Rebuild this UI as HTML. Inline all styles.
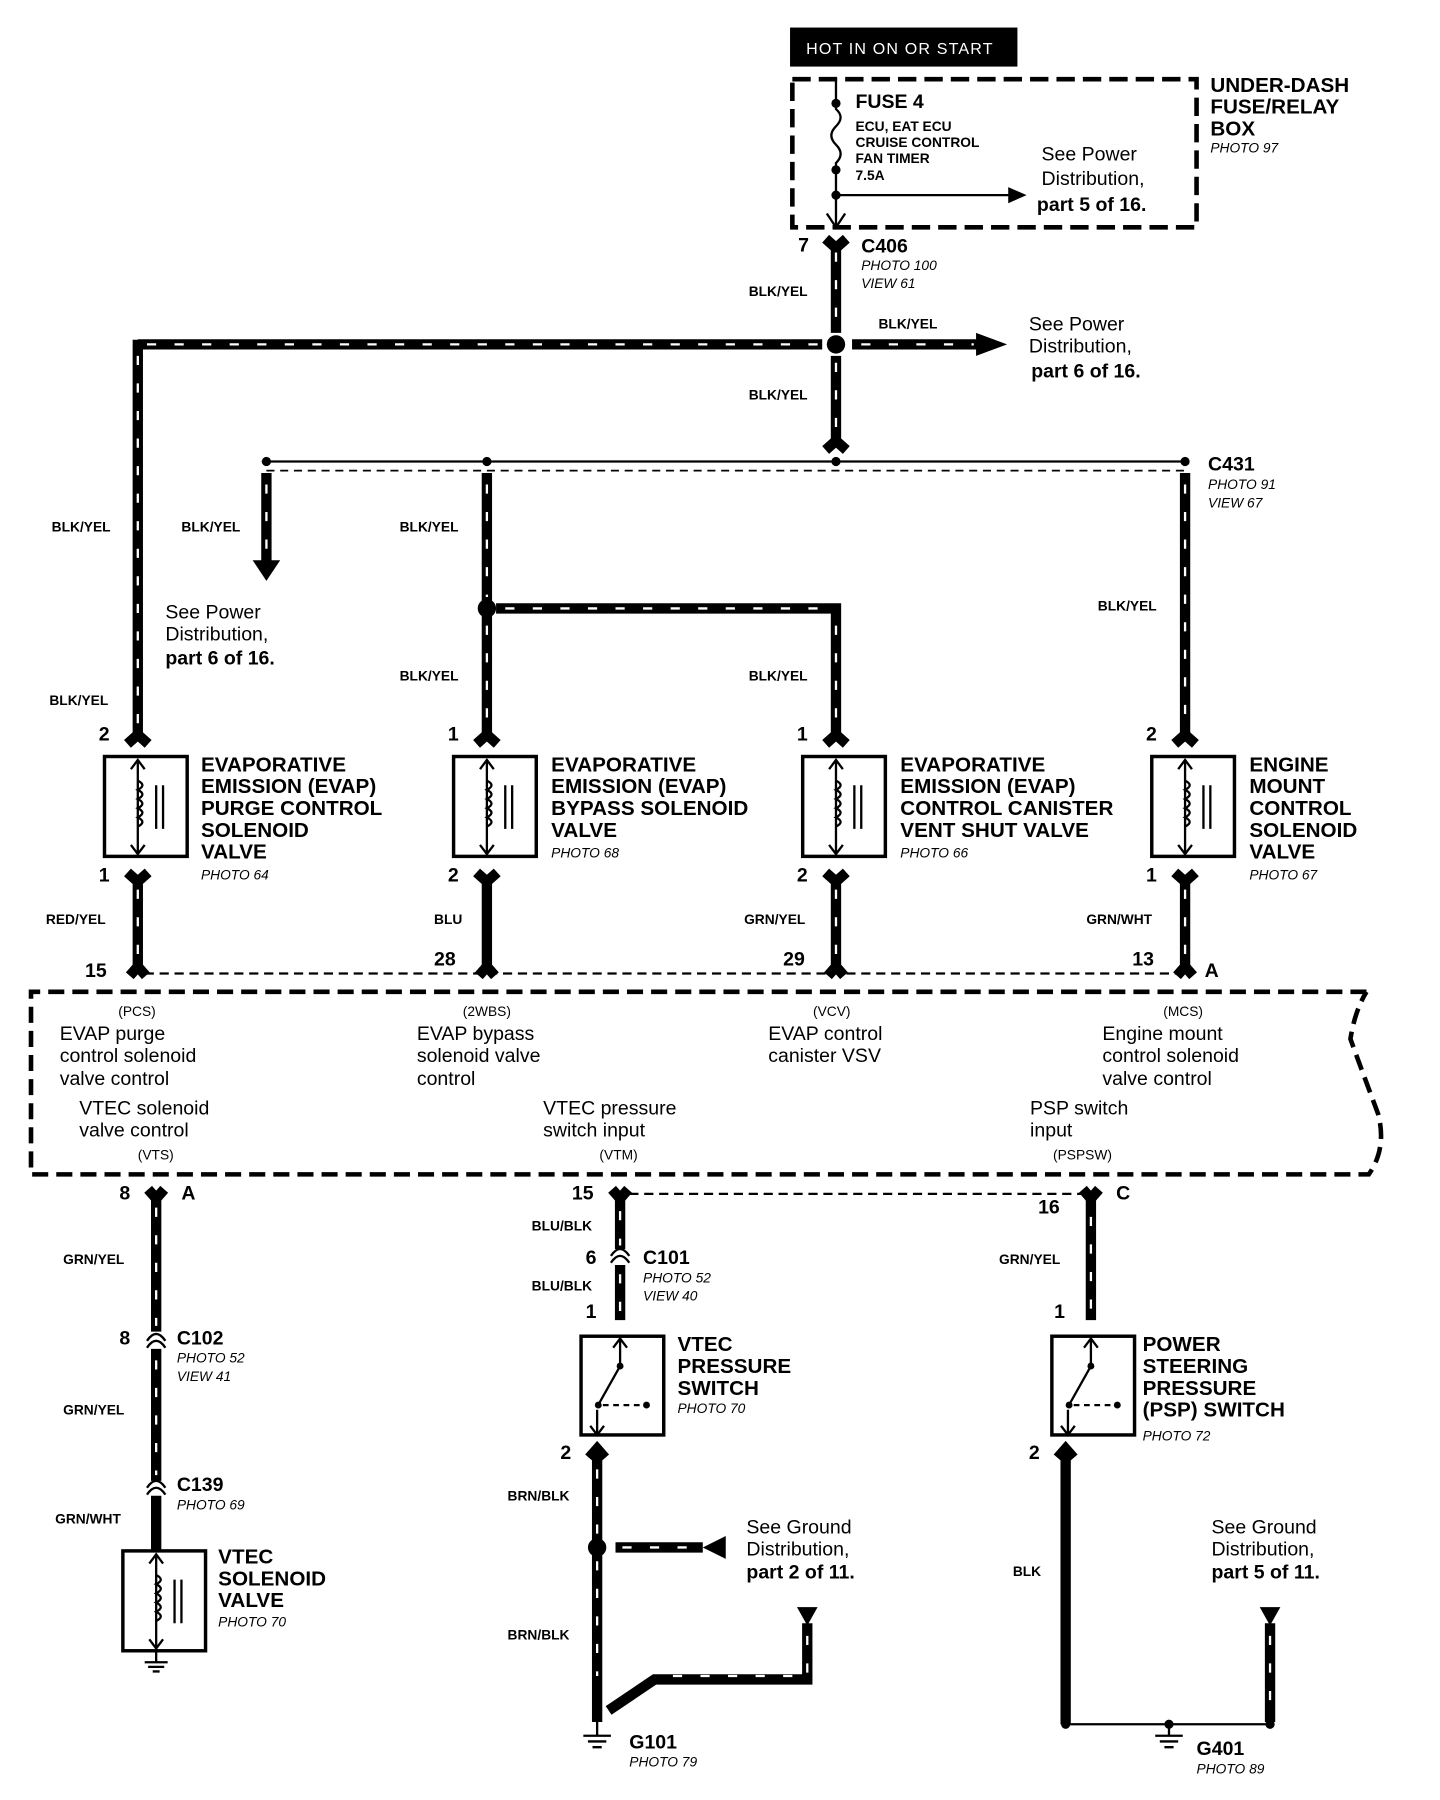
<!DOCTYPE html>
<html><head><meta charset="utf-8"><style>
html,body{margin:0;padding:0;background:#fff;width:1440px;height:1800px;overflow:hidden}
svg{display:block}
text{font-family:"Liberation Sans",sans-serif;fill:#000}
.b{font-weight:bold}
.i{font-style:italic;font-size:12px}
.s{font-size:12px;font-weight:bold}
.n{font-size:17px}
.h{font-size:18px;font-weight:bold}
.w{stroke:#000;stroke-width:9;fill:none}
.d{stroke:#fff;stroke-width:2;stroke-dasharray:8 16;fill:none}
.t{stroke:#000;stroke-width:2;fill:none}
</style></head><body>
<svg width="1440" height="1800" viewBox="0 0 1254 1568" preserveAspectRatio="none" xmlns="http://www.w3.org/2000/svg">
<rect width="1254" height="1568" fill="#fff"/>
<!-- top -->
<rect x="688" y="24" width="198" height="34" fill="#000"/>
<text x="702" y="47" style="fill:#fff;font-size:14px;letter-spacing:1px">HOT IN ON OR START</text>
<rect x="690" y="69" width="352" height="129" fill="none" stroke="#000" stroke-width="4" stroke-dasharray="16 7"/>
<path class="t" d="M728 68V95 Q736 102 728 110 Q720 118 728 126 Q736 134 728 142 V196"/>
<circle cx="728" cy="90" r="4"/><circle cx="728" cy="148" r="4"/><circle cx="728" cy="170" r="4"/>
<path class="t" d="M728 170H880"/><path d="M878 163L894 170L878 177Z"/>
<path class="t" d="M720 186L728 198L736 186"/>
<text x="745" y="94" class="b n">FUSE 4</text>
<text x="745" y="114" class="s">ECU, EAT ECU</text>
<text x="745" y="128" class="s">CRUISE CONTROL</text>
<text x="745" y="142" class="s">FAN TIMER</text>
<text x="745" y="157" class="s">7.5A</text>
<text x="907" y="140" class="n">See Power</text>
<text x="907" y="161" class="n">Distribution,</text>
<text x="903" y="184" class="b n">part 5 of 16.</text>
<text x="1054" y="80" class="h">UNDER-DASH</text>
<text x="1054" y="99" class="h">FUSE/RELAY</text>
<text x="1054" y="118" class="h">BOX</text>
<text x="1054" y="133" class="i">PHOTO 97</text>
<text x="695" y="219" class="b n">7</text>
<text x="750" y="220" class="b n">C406</text>
<text x="750" y="235" class="i">PHOTO 100</text>
<text x="750" y="251" class="i">VIEW 61</text>
<!-- main feed -->
<path class="w" d="M719 208L728 216L737 208"/>
<path class="w" d="M728 214V290M728 310V384"/><path class="d" d="M728 220V290M728 316V384"/>
<path class="w" d="M719 392L728 384L737 392"/>
<text x="652" y="258" class="s">BLK/YEL</text>
<text x="652" y="348" class="s">BLK/YEL</text>
<text x="765" y="286" class="s">BLK/YEL</text>
<circle cx="728" cy="300" r="8"/>
<path class="w" d="M120 300H716M742 300H852"/><path class="d" d="M128 300H712M750 300H848"/>
<path d="M850 290L877 300L850 310Z"/>
<text x="896" y="288" class="n">See Power</text>
<text x="896" y="307" class="n">Distribution,</text>
<text x="898" y="329" class="b n">part 6 of 16.</text>
<!-- C431 bus -->
<path class="t" d="M228 402H1035"/>
<path d="M232 410H1032" stroke="#000" stroke-width="1.5" stroke-dasharray="7 5"/>
<circle cx="232" cy="402" r="4"/><circle cx="424" cy="402" r="4"/><circle cx="728" cy="402" r="4"/><circle cx="1032" cy="402" r="4"/>
<text x="1052" y="410" class="b n">C431</text>
<text x="1052" y="426" class="i">PHOTO 91</text>
<text x="1052" y="442" class="i">VIEW 67</text>
<!-- left -->
<path class="w" d="M120 296V640"/><path class="d" d="M120 310V640"/>
<text x="45" y="463" class="s">BLK/YEL</text><text x="43" y="614" class="s">BLK/YEL</text>
<path class="w" d="M232 412V490"/><path class="d" d="M232 422V485"/>
<path d="M220 488L232 506L244 488Z"/>
<text x="158" y="463" class="s">BLK/YEL</text>
<text x="144" y="539" class="n">See Power</text>
<text x="144" y="558" class="n">Distribution,</text>
<text x="144" y="579" class="b n">part 6 of 16.</text>
<path class="w" d="M424 412V640"/><path class="d" d="M424 422V520M424 545V640"/>
<circle cx="424" cy="530" r="8"/>
<path class="w" d="M432 530H728V640"/><path class="d" d="M440 530H720M728 545V640"/>
<text x="348" y="463" class="s">BLK/YEL</text><text x="348" y="593" class="s">BLK/YEL</text><text x="652" y="593" class="s">BLK/YEL</text>
<path class="w" d="M1032 412V640"/><path class="d" d="M1032 422V640"/>
<text x="956" y="532" class="s">BLK/YEL</text>
<!-- forks above solenoids -->
<path class="w" d="M111 648L120 640L129 648M415 648L424 640L433 648M719 648L728 640L737 648M1023 648L1032 640L1041 648"/>
<text x="86" y="645" class="b n">2</text><text x="390" y="645" class="b n">1</text><text x="694" y="645" class="b n">1</text><text x="998" y="645" class="b n">2</text>
<!-- solenoid boxes -->
<g id="sol">
<rect x="91" y="659" width="72" height="87" fill="none" stroke="#000" stroke-width="3"/>
<path class="t" d="M120 662V744M114 670L120 662L126 670M114 736L120 744L126 736"/>
<path class="t" d="M120 680q8 4 0 8q8 4 0 8q8 4 0 8q8 4 0 8q8 4 0 8"/>
<path class="t" d="M136 684V722M142 684V722"/>
</g>
<use href="#sol" x="304"/><use href="#sol" x="608"/><use href="#sol" x="912"/>
<text class="h"><tspan x="175" y="672">EVAPORATIVE</tspan><tspan x="175" y="691">EMISSION (EVAP)</tspan><tspan x="175" y="710">PURGE CONTROL</tspan><tspan x="175" y="729">SOLENOID</tspan><tspan x="175" y="748">VALVE</tspan></text>
<text x="175" y="766" class="i">PHOTO 64</text>
<text class="h"><tspan x="480" y="672">EVAPORATIVE</tspan><tspan x="480" y="691">EMISSION (EVAP)</tspan><tspan x="480" y="710">BYPASS SOLENOID</tspan><tspan x="480" y="729">VALVE</tspan></text>
<text x="480" y="747" class="i">PHOTO 68</text>
<text class="h"><tspan x="784" y="672">EVAPORATIVE</tspan><tspan x="784" y="691">EMISSION (EVAP)</tspan><tspan x="784" y="710">CONTROL CANISTER</tspan><tspan x="784" y="729">VENT SHUT VALVE</tspan></text>
<text x="784" y="747" class="i">PHOTO 66</text>
<text class="h"><tspan x="1088" y="672">ENGINE</tspan><tspan x="1088" y="691">MOUNT</tspan><tspan x="1088" y="710">CONTROL</tspan><tspan x="1088" y="729">SOLENOID</tspan><tspan x="1088" y="748">VALVE</tspan></text>
<text x="1088" y="766" class="i">PHOTO 67</text>
<text x="86" y="768" class="b n">1</text><text x="390" y="768" class="b n">2</text><text x="694" y="768" class="b n">2</text><text x="998" y="768" class="b n">1</text>
<path class="w" d="M111 760L120 768L129 760M415 760L424 768L433 760M719 760L728 768L737 760M1023 760L1032 768L1041 760"/>
<path class="w" d="M120 766V842M424 766V842M728 766V842M1032 766V842"/>
<path class="d" d="M120 775V842M728 775V842M1032 775V842"/>
<path class="w" d="M113 850L120 842L127 850M417 850L424 842L431 850M721 850L728 842L735 850M1025 850L1032 842L1039 850"/>
<text x="40" y="805" class="s">RED/YEL</text><text x="378" y="805" class="s">BLU</text><text x="648" y="805" class="s">GRN/YEL</text><text x="946" y="805" class="s">GRN/WHT</text>
<text x="74" y="851" class="b n">15</text><text x="378" y="841" class="b n">28</text><text x="682" y="841" class="b n">29</text><text x="986" y="841" class="b n">13</text><text x="1049" y="851" class="b n">A</text>
<path d="M126 848H1026" stroke="#000" stroke-width="2" stroke-dasharray="8 5"/>
<!-- ECU box -->
<path d="M1190 864H27V1023H1192 Q1208 1000 1200 970 Q1185 930 1176 905 Q1180 880 1190 864" fill="none" stroke="#000" stroke-width="4" stroke-dasharray="14 7"/>
<g style="font-size:12px">
<text x="103" y="885">(PCS)</text><text x="403" y="885">(2WBS)</text><text x="708" y="885">(VCV)</text><text x="1013" y="885">(MCS)</text>
<text x="120" y="1010">(VTS)</text><text x="522" y="1010">(VTM)</text><text x="917" y="1010">(PSPSW)</text>
</g>
<text class="n"><tspan x="52" y="906">EVAP purge</tspan><tspan x="52" y="925">control solenoid</tspan><tspan x="52" y="945">valve control</tspan></text>
<text class="n"><tspan x="363" y="906">EVAP bypass</tspan><tspan x="363" y="925">solenoid valve</tspan><tspan x="363" y="945">control</tspan></text>
<text class="n"><tspan x="669" y="906">EVAP control</tspan><tspan x="669" y="925">canister VSV</tspan></text>
<text class="n"><tspan x="960" y="906">Engine mount</tspan><tspan x="960" y="925">control solenoid</tspan><tspan x="960" y="945">valve control</tspan></text>
<text class="n"><tspan x="69" y="971">VTEC solenoid</tspan><tspan x="69" y="990">valve control</tspan></text>
<text class="n"><tspan x="473" y="971">VTEC pressure</tspan><tspan x="473" y="990">switch input</tspan></text>
<text class="n"><tspan x="897" y="971">PSP switch</tspan><tspan x="897" y="990">input</tspan></text>
<!-- bottom left -->
<text x="104" y="1045" class="b n">8</text><text x="158" y="1045" class="b n">A</text>
<text x="498" y="1045" class="b n">15</text><text x="904" y="1057" class="b n">16</text><text x="972" y="1045" class="b n">C</text>
<path d="M548 1040H944" stroke="#000" stroke-width="2" stroke-dasharray="8 5"/>
<path class="w" d="M129 1036L136 1044L143 1036M533 1036L540 1044L547 1036M943 1036L950 1044L957 1036"/>
<path class="w" d="M136 1042V1160M136 1175V1290M136 1303V1352"/><path class="d" d="M136 1052V1155M136 1185V1285"/>
<path class="t" d="M128 1168Q136 1156 144 1168M128 1174Q136 1162 144 1174M128 1296Q136 1284 144 1296M128 1302Q136 1290 144 1302"/>
<text x="55" y="1101" class="s">GRN/YEL</text><text x="55" y="1232" class="s">GRN/YEL</text><text x="48" y="1327" class="s">GRN/WHT</text>
<text x="104" y="1171" class="b n">8</text><text x="154" y="1171" class="b n">C102</text><text x="154" y="1187" class="i">PHOTO 52</text><text x="154" y="1203" class="i">VIEW 41</text>
<text x="154" y="1299" class="b n">C139</text><text x="154" y="1315" class="i">PHOTO 69</text>
<use href="#sol" x="16" y="692"/>
<path class="t" d="M136 1438V1448M126 1448H146M129 1452H143M133 1456H139"/>
<text class="h"><tspan x="190" y="1362">VTEC</tspan><tspan x="190" y="1381">SOLENOID</tspan><tspan x="190" y="1400">VALVE</tspan></text>
<text x="190" y="1417" class="i">PHOTO 70</text>
<!-- middle -->
<path class="w" d="M540 1042V1088M540 1102V1150"/><path class="d" d="M540 1055V1085M540 1110V1150"/>
<path class="t" d="M532 1094Q540 1082 548 1094M532 1100Q540 1088 548 1100"/>
<text x="463" y="1072" class="s">BLU/BLK</text><text x="463" y="1124" class="s">BLU/BLK</text>
<text x="510" y="1101" class="b n">6</text><text x="560" y="1101" class="b n">C101</text><text x="560" y="1117" class="i">PHOTO 52</text><text x="560" y="1133" class="i">VIEW 40</text>
<text x="510" y="1148" class="b n">1</text>
<g id="sw">
<rect x="506" y="1164" width="72" height="86" fill="none" stroke="#000" stroke-width="3"/>
<path class="t" d="M540 1166V1190M534 1174L540 1166L546 1174M520 1250V1228M514 1242L520 1250L526 1242"/>
<path class="t" d="M540 1190L522 1222"/><circle cx="540" cy="1190" r="3"/><circle cx="521" cy="1224" r="3"/>
<path d="M525 1224H560" stroke="#000" stroke-width="2" stroke-dasharray="5 4"/><circle cx="563" cy="1224" r="3"/>
</g>
<text class="h"><tspan x="590" y="1177">VTEC</tspan><tspan x="590" y="1196">PRESSURE</tspan><tspan x="590" y="1215">SWITCH</tspan></text>
<text x="590" y="1231" class="i">PHOTO 70</text>
<text x="488" y="1271" class="b n">2</text>
<path class="w" d="M513 1270L520 1262L527 1270"/>
<path class="w" d="M520 1266V1500"/><path class="d" d="M520 1280V1338M520 1360V1460"/>
<circle cx="520" cy="1348" r="8"/>
<path class="w" d="M536 1348H612"/><path class="d" d="M542 1348H604"/><path d="M632 1338L612 1348L632 1358Z"/>
<text x="442" y="1307" class="s">BRN/BLK</text><text x="442" y="1428" class="s">BRN/BLK</text>
<text x="650" y="1336" class="n">See Ground</text><text x="650" y="1355" class="n">Distribution,</text><text x="650" y="1375" class="b n">part 2 of 11.</text>
<path d="M694 1400L712 1400L703 1416Z"/>
<path class="w" d="M703 1414V1463H570L530 1490"/><path class="d" d="M703 1425V1460H575"/>
<path class="t" d="M520 1500V1512M508 1512H532M512 1517H528M516 1522H524"/>
<text x="548" y="1523" class="b n">G101</text><text x="548" y="1539" class="i">PHOTO 79</text>
<!-- right -->
<path class="w" d="M950 1042V1150"/><path class="d" d="M950 1060V1150"/>
<text x="870" y="1101" class="s">GRN/YEL</text><text x="918" y="1148" class="b n">1</text>
<use href="#sw" x="410"/>
<text class="h"><tspan x="995" y="1177">POWER</tspan><tspan x="995" y="1196">STEERING</tspan><tspan x="995" y="1215">PRESSURE</tspan><tspan x="995" y="1234">(PSP) SWITCH</tspan></text>
<text x="995" y="1255" class="i">PHOTO 72</text>
<text x="896" y="1271" class="b n">2</text>
<path class="w" d="M921 1270L928 1262L935 1270"/>
<path class="w" d="M928 1266V1502"/>
<text x="882" y="1373" class="s">BLK</text>
<path class="t" d="M928 1502H1106"/><circle cx="928" cy="1502" r="4"/><circle cx="1106" cy="1502" r="4"/>
<path d="M1097 1400L1115 1400L1106 1416Z"/>
<path class="w" d="M1106 1414V1500"/><path class="d" d="M1106 1425V1495"/>
<text x="1055" y="1336" class="n">See Ground</text><text x="1055" y="1355" class="n">Distribution,</text><text x="1055" y="1375" class="b n">part 5 of 11.</text>
<circle cx="1018" cy="1502" r="4"/>
<path class="t" d="M1018 1502V1512M1006 1512H1030M1010 1517H1026M1014 1522H1022"/>
<text x="1042" y="1529" class="b n">G401</text><text x="1042" y="1545" class="i">PHOTO 89</text>
</svg>
</body></html>
